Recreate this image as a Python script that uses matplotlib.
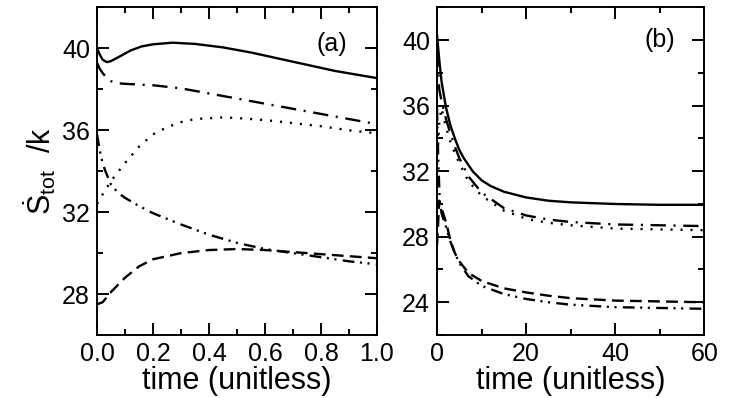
import matplotlib
matplotlib.use("Agg")
import matplotlib.pyplot as plt
from matplotlib.ticker import MultipleLocator

plt.rcParams['font.family'] = ['Liberation Sans', 'DejaVu Sans']
plt.rcParams['mathtext.fontset'] = 'custom'
plt.rcParams['mathtext.rm'] = 'Liberation Sans'
plt.rcParams['mathtext.it'] = 'Liberation Sans:italic'
plt.rcParams['lines.scale_dashes'] = False

# ---------------- Panel (a) data ----------------
t_a_solid = [0.0, 0.01, 0.02, 0.035, 0.05, 0.08, 0.12, 0.16, 0.2, 0.27, 0.35, 0.45, 0.55, 0.65, 0.75, 0.85, 1.0]
a_solid   = [40.0, 39.7, 39.45, 39.33, 39.38, 39.6, 39.9, 40.1, 40.2, 40.28, 40.22, 40.05, 39.8, 39.5, 39.2, 38.9, 38.55]

t_a_dashdot = [0.0, 0.01, 0.02, 0.035, 0.05, 0.07, 0.1, 0.2, 0.3, 0.4, 0.5, 0.6, 0.7, 0.8, 0.9, 1.0]
a_dashdot   = [39.3, 39.0, 38.8, 38.55, 38.4, 38.3, 38.27, 38.2, 38.05, 37.8, 37.55, 37.3, 37.05, 36.8, 36.55, 36.3]

t_a_dotted = [0.0, 0.03, 0.06, 0.1, 0.15, 0.2, 0.25, 0.3, 0.35, 0.45, 0.5, 0.6, 0.7, 0.8, 0.9, 1.0]
a_dotted   = [32.4, 33.1, 33.7, 34.4, 35.2, 35.8, 36.15, 36.4, 36.55, 36.63, 36.6, 36.5, 36.35, 36.2, 36.0, 35.85]

t_a_dashdotdot = [0.0, 0.01, 0.02, 0.03, 0.05, 0.075, 0.1, 0.15, 0.2, 0.3, 0.4, 0.5, 0.6, 0.7, 0.8, 0.9, 1.0]
a_dashdotdot   = [35.8, 35.0, 34.4, 34.0, 33.35, 32.95, 32.7, 32.3, 31.95, 31.4, 30.9, 30.5, 30.2, 30.0, 29.8, 29.6, 29.45]

t_a_dashed = [0.0, 0.02, 0.05, 0.1, 0.15, 0.2, 0.3, 0.4, 0.5, 0.6, 0.7, 0.8, 0.9, 1.0]
a_dashed   = [27.5, 27.6, 28.1, 28.8, 29.35, 29.7, 30.0, 30.15, 30.2, 30.15, 30.05, 29.95, 29.85, 29.75]

# ---------------- Panel (b) data ----------------
t_b_solid = [0, 0.5, 1, 2, 3, 4, 5, 6, 8, 10, 12, 15, 20, 25, 30, 40, 50, 60]
b_solid   = [40.3, 38.8, 37.5, 35.9, 34.8, 34.0, 33.3, 32.8, 32.0, 31.45, 31.1, 30.75, 30.4, 30.2, 30.1, 30.0, 29.95, 29.95]

t_b_dashdot = [0, 0.5, 1, 2, 3, 4, 5, 7, 10, 15, 20, 25, 30, 40, 50, 60]
b_dashdot   = [39.3, 37.0, 36.3, 35.2, 34.3, 33.5, 32.8, 31.7, 30.7, 29.75, 29.3, 29.05, 28.9, 28.75, 28.7, 28.65]

t_b_dotted = [0, 0.5, 1, 2, 3, 4, 5, 7, 10, 15, 20, 25, 30, 40, 50, 60]
b_dotted   = [32.4, 35.0, 35.85, 34.7, 33.8, 33.1, 32.5, 31.4, 30.5, 29.6, 29.1, 28.85, 28.7, 28.5, 28.45, 28.4]

t_b_dashdotdot = [0, 0.3, 0.6, 1, 2, 3, 4, 5, 7, 10, 15, 20, 25, 30, 40, 50, 60]
b_dashdotdot   = [35.8, 32.5, 30.2, 29.45, 28.6, 27.7, 27.0, 26.4, 25.6, 25.0, 24.5, 24.2, 24.0, 23.85, 23.7, 23.65, 23.6]

t_b_dashed = [0, 0.5, 1, 2, 3, 4, 5, 7, 10, 15, 20, 25, 30, 40, 50, 60]
b_dashed   = [27.5, 30.2, 29.75, 28.9, 27.8, 27.0, 26.5, 25.8, 25.3, 24.85, 24.6, 24.4, 24.25, 24.1, 24.05, 24.0]

styles = {
    'solid': '-',
    'dashdot': (0, (11, 5.5, 1.5, 5.5)),
    'dotted': (0, (1.5, 5.7)),
    'dashdotdot': (0, (8.5, 4, 1.5, 4, 1.5, 4.5)),
    'dashed': (0, (8.5, 4.5)),
}
LW = 1.7

fig = plt.figure(figsize=(7.36, 3.98), dpi=100)
ax_a = fig.add_axes([0.1318, 0.1583, 0.3804, 0.8229])
ax_b = fig.add_axes([0.5938, 0.1583, 0.3632, 0.8229])

ax_a.plot(t_a_solid, a_solid, color='black', lw=LW, linestyle=styles['solid'])
ax_a.plot(t_a_dashdot, a_dashdot, color='black', lw=LW, linestyle=styles['dashdot'])
ax_a.plot(t_a_dotted, a_dotted, color='black', lw=LW, linestyle=styles['dotted'])
ax_a.plot(t_a_dashdotdot, a_dashdotdot, color='black', lw=LW, linestyle=styles['dashdotdot'])
ax_a.plot(t_a_dashed, a_dashed, color='black', lw=LW, linestyle=styles['dashed'])

ax_b.plot(t_b_solid, b_solid, color='black', lw=LW, linestyle=styles['solid'])
ax_b.plot(t_b_dashdot, b_dashdot, color='black', lw=LW, linestyle=styles['dashdot'])
ax_b.plot(t_b_dotted, b_dotted, color='black', lw=LW, linestyle=styles['dotted'])
ax_b.plot(t_b_dashdotdot, b_dashdotdot, color='black', lw=LW, linestyle=styles['dashdotdot'])
ax_b.plot(t_b_dashed, b_dashed, color='black', lw=LW, linestyle=styles['dashed'])

ax_a.set_xlim(0, 1.0)
ax_a.set_ylim(26, 42)
ax_a.xaxis.set_major_locator(MultipleLocator(0.2))
ax_a.xaxis.set_minor_locator(MultipleLocator(0.1))
ax_a.set_yticks([28, 32, 36, 40])
ax_a.yaxis.set_minor_locator(MultipleLocator(2))
ax_a.xaxis.set_major_formatter(matplotlib.ticker.FormatStrFormatter('%.1f'))

ax_b.set_xlim(0, 60)
ax_b.set_ylim(22, 42)
ax_b.xaxis.set_major_locator(MultipleLocator(20))
ax_b.xaxis.set_minor_locator(MultipleLocator(10))
ax_b.set_yticks([24, 28, 32, 36, 40])
ax_b.yaxis.set_minor_locator(MultipleLocator(2))

for ax in (ax_a, ax_b):
    for sp in ax.spines.values():
        sp.set_linewidth(1.4)
    ax.tick_params(which='both', direction='in', top=True, right=True, width=1.4, labelsize=18, pad=5)
    ax.tick_params(which='major', length=8.5)
    ax.tick_params(which='minor', length=4)
    ax.set_xlabel('time (unitless)', fontsize=22, labelpad=0)

ax_a.set_ylabel(r'$\dot{\mathrm{S}}_{\mathrm{tot}}$  /k', fontsize=22, labelpad=3)

ax_a.text(0.84, 0.89, '(a)', transform=ax_a.transAxes, fontsize=18, ha='center', va='center')
ax_b.text(0.835, 0.90, '(b)', transform=ax_b.transAxes, fontsize=18, ha='center', va='center')

fig.savefig('out.png', dpi=100)
